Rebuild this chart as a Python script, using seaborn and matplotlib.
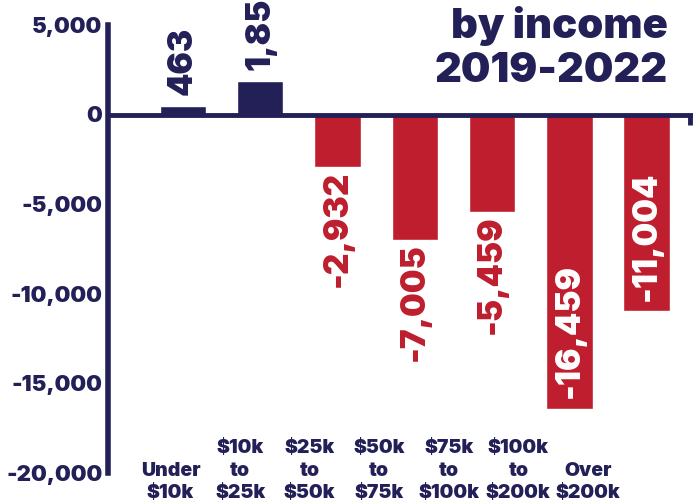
import matplotlib
matplotlib.use("Agg")
import matplotlib.pyplot as plt
import matplotlib.transforms as mtransforms
import seaborn as sns
import pandas as pd

# --- Data ---
categories = ["Under\n$10k", "$10k\nto\n$25k", "$25k\nto\n$50k", "$50k\nto\n$75k",
              "$75k\nto\n$100k", "$100k\nto\n$200k", "Over\n$200k"]
values = [463, 1856, -2932, -7005, -5459, -16459, -11004]
yticks = [5000, 0, -5000, -10000, -15000, -20000]
title_lines = ["by income", "2019-2022"]

NAVY = "#232058"
RED = "#be1e2d"

df = pd.DataFrame({"bracket": categories, "change": values})
colors = [NAVY if v >= 0 else RED for v in values]

sns.set_style("white")
plt.rcParams["font.family"] = ["Inter", "DejaVu Sans"]
plt.rcParams["font.weight"] = "black"

fig = plt.figure(figsize=(6.93, 5.03), dpi=100)
ax = fig.add_axes([108 / 693, 1 - 472.5 / 503, 1 - 108 / 693, (472.5 - 25) / 503])

sns.barplot(data=df, x="bracket", y="change", hue="bracket", palette=colors,
            legend=False, width=0.6, saturation=1, ax=ax)

ax.set_ylim(-20000, 5000)
ax.set_xlim(-0.97, 6.6)
ax.set_xlabel("")
ax.set_ylabel("")
ax.set_yticks(yticks)
ax.set_yticklabels([f"{t:,}" for t in yticks], fontsize=16, fontweight="black", color=NAVY)
ax.tick_params(axis="y", direction="in", length=10, width=3.5, color=NAVY, pad=4)
ax.set_xticks([])

for s in ["top", "right"]:
    ax.spines[s].set_visible(False)
ax.spines["left"].set_color(NAVY)
ax.spines["left"].set_linewidth(4)
ax.spines["bottom"].set_position(("data", 0))
ax.spines["bottom"].set_color(NAVY)
ax.spines["bottom"].set_linewidth(3.5)
ax.spines["bottom"].set_zorder(5)

# small downward tick at right end of zero line
blend = mtransforms.blended_transform_factory(ax.transAxes, ax.transData)
ax.plot([0.995, 0.995], [0, -600], color=NAVY, lw=3.5, transform=blend, clip_on=False,
        solid_capstyle="butt")

# value labels
for i, v in enumerate(values):
    txt = f"{v:,}"
    if v >= 0:
        ax.text(i, v + 650, txt, rotation=90, ha="center", va="bottom", fontsize=24,
                fontweight="black", color=NAVY, clip_on=False)
    elif v < -10000:
        ax.text(i, v + 600, txt, rotation=90, ha="center", va="bottom", fontsize=24,
                fontweight="black", color="white")
    else:
        ax.text(i, v - 200, txt, rotation=90, ha="center", va="top", fontsize=24,
                fontweight="black", color=RED)

# category labels at bottom
lab_tr = mtransforms.blended_transform_factory(ax.transData, fig.transFigure)
for i, c in enumerate(categories):
    ax.text(i * 0.9 - 0.16, 1 / 503, c, transform=lab_tr, ha="center", va="bottom",
            multialignment="center", fontsize=14, fontweight="black", color=NAVY,
            linespacing=1.32)

fig.text(668 / 693, 1 - 6 / 503, "\n".join(title_lines), ha="right", va="top",
         fontsize=30, fontweight="black", color=NAVY, linespacing=1.2,
         multialignment="right")

fig.savefig("out.png", dpi=100)
